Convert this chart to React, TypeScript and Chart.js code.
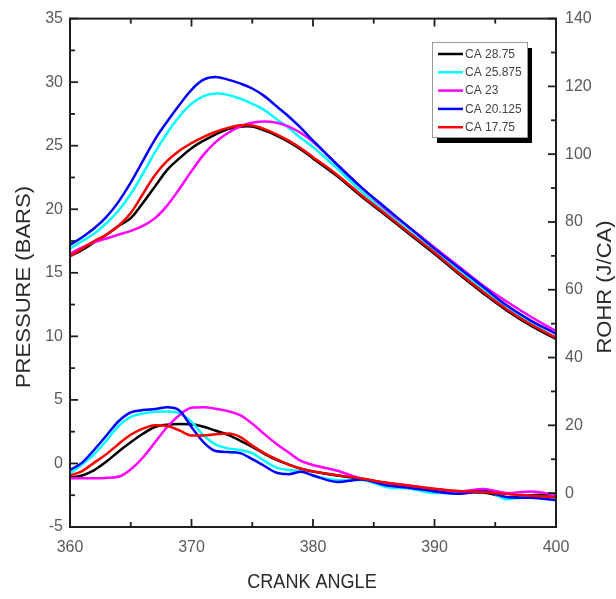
import React, { useEffect, useRef } from 'react';
import { Chart, registerables } from 'chart.js';

Chart.register(...registerables);

// ---------- DATA ----------
const crankAngle = [
  360, 361, 362, 363, 364, 365, 366, 367, 368, 369, 370, 371, 372, 373, 374, 375, 376, 377, 378, 379, 380,
  382, 384, 386, 388, 390, 392, 394, 396, 398, 400,
];

const seriesLabels = ['CA 28.75', 'CA 25.875', 'CA 23', 'CA 20.125', 'CA 17.75'];
const seriesColors = ['#000000', '#00ffff', '#ff00ff', '#0000ff', '#ff0000'];

// Pressure (bar), left axis
const pressureCA2875 = [
  16.3, 16.8, 17.4, 18.0, 18.7, 19.3, 20.5, 21.8, 23.1, 24.0, 24.8, 25.4, 25.9, 26.3, 26.5, 26.5, 26.2, 25.8, 25.3, 24.7, 24.0,
  22.6, 21.0, 19.5, 18.0, 16.5, 14.9, 13.4, 12.0, 10.8, 9.8,
];
const pressureCA25875 = [
  16.9, 17.5, 18.1, 18.9, 19.9, 21.2, 22.8, 24.5, 26.0, 27.3, 28.3, 28.9, 29.1, 29.0, 28.7, 28.3, 27.8, 27.1, 26.4, 25.6, 24.9,
  23.2, 21.4, 19.8, 18.2, 16.7, 15.2, 13.7, 12.2, 11.0, 9.9,
];
const pressureCA23 = [
  16.5, 17.0, 17.4, 17.7, 18.0, 18.3, 18.7, 19.3, 20.3, 21.6, 23.0, 24.3, 25.3, 26.0, 26.5, 26.8, 26.9, 26.8, 26.5, 26.0, 25.3,
  23.5, 21.7, 20.0, 18.5, 17.0, 15.5, 14.0, 12.7, 11.5, 10.4,
];
const pressureCA20125 = [
  17.2, 17.8, 18.5, 19.4, 20.6, 22.1, 23.8, 25.5, 26.9, 28.2, 29.4, 30.2, 30.4, 30.2, 29.9, 29.5, 28.9, 28.1, 27.3, 26.4, 25.4,
  23.5, 21.7, 20.1, 18.5, 16.9, 15.4, 13.9, 12.4, 11.2, 10.2,
];
const pressureCA1775 = [
  16.3, 16.9, 17.5, 18.0, 18.7, 19.7, 21.2, 22.7, 23.8, 24.6, 25.2, 25.7, 26.1, 26.4, 26.6, 26.6, 26.3, 25.9, 25.4, 24.8, 24.1,
  22.7, 21.1, 19.6, 18.1, 16.6, 15.0, 13.5, 12.1, 10.9, 9.9,
];

// ROHR (J/CA), right axis
const rohrCA2875 = [
  4.6, 5.2, 6.8, 9.3, 12.3, 15.0, 17.5, 19.5, 20.2, 20.4, 20.3, 19.6, 18.4, 17.2, 15.5, 13.6, 11.6, 9.8, 8.4, 7.2, 6.4,
  5.2, 4.2, 3.0, 2.0, 1.0, 0.3, 0.2, -1.2, -0.6, -0.3,
];
const rohrCA25875 = [
  5.8, 8.5, 11.5, 15.5, 19.8, 22.5, 23.5, 24.0, 24.1, 23.6, 21.0, 17.0, 14.3, 13.2, 12.7, 11.8, 9.5, 7.5, 6.8, 6.5, 5.2,
  3.8, 3.9, 1.8, 1.3, 0.0, 0.0, 1.2, -1.8, -1.0, -1.5,
];
const rohrCA23 = [
  4.4, 4.4, 4.4, 4.5, 4.8, 7.0, 10.5, 15.0, 19.5, 23.0, 25.2, 25.3, 24.9, 24.2, 23.0, 20.5, 17.4, 14.5, 12.0, 9.5, 8.3,
  6.6, 4.3, 3.0, 2.2, 1.2, 0.5, 1.2, 0.0, 0.5, -0.6,
];
const rohrCA20125 = [
  6.8, 9.0, 12.8, 17.0, 21.2, 23.8, 24.5, 24.8, 25.3, 24.4, 19.5, 15.0, 12.4, 12.1, 11.8, 10.0, 8.0, 6.0, 5.6, 6.3, 5.2,
  3.3, 4.0, 2.3, 1.5, 0.5, -0.2, 0.6, -1.2, -1.4, -2.1,
];
const rohrCA1775 = [
  5.2, 6.5, 9.0, 11.5, 14.5, 17.2, 19.0, 20.0, 19.8, 18.5, 17.0, 17.0, 17.4, 17.6, 16.6, 14.0, 11.8, 10.0, 8.4, 7.2, 6.4,
  5.3, 4.3, 3.1, 2.2, 1.3, 0.6, 0.3, -0.3, -0.8, -1.2,
];

const pressureSeries = [pressureCA2875, pressureCA25875, pressureCA23, pressureCA20125, pressureCA1775];
const rohrSeries = [rohrCA2875, rohrCA25875, rohrCA23, rohrCA20125, rohrCA1775];

const angleTicks = [360, 370, 380, 390, 400];
const pressureTicks = [-5, 0, 5, 10, 15, 20, 25, 30, 35];
const rohrTicks = [0, 20, 40, 60, 80, 100, 120, 140];

const xTitle = 'CRANK ANGLE';
const yLeftTitle = 'PRESSURE (BARS)';
const yRightTitle = 'ROHR (J/CA)';

const FONT = "'Liberation Sans', Arial, sans-serif";

const mids = (arr: number[]) => arr.slice(1).map((v, i) => (v + arr[i]) / 2);

const framePlugin = {
  id: 'frameAndExtras',
  afterDatasetsDraw(chart: any) {
    const { ctx, chartArea: a, scales } = chart;
    const xs = scales.x, yl = scales.y, yr = scales.y1;
    ctx.save();
    ctx.strokeStyle = '#1e1e1e';
    ctx.lineWidth = 2;
    ctx.strokeRect(a.left, a.top, a.right - a.left, a.bottom - a.top);

    const line = (x1: number, y1: number, x2: number, y2: number) => {
      ctx.beginPath();
      ctx.moveTo(x1, y1);
      ctx.lineTo(x2, y2);
      ctx.stroke();
    };
    const major = 8, minor = 5;
    ctx.lineWidth = 1.8;
    angleTicks.forEach((v) => {
      const p = xs.getPixelForValue(v);
      line(p, a.bottom, p, a.bottom - major);
      line(p, a.top, p, a.top + major);
    });
    mids(angleTicks).forEach((v) => {
      const p = xs.getPixelForValue(v);
      line(p, a.bottom, p, a.bottom - minor);
      line(p, a.top, p, a.top + minor);
    });
    pressureTicks.forEach((v) => {
      const p = yl.getPixelForValue(v);
      line(a.left, p, a.left + major, p);
    });
    mids(pressureTicks).forEach((v) => {
      const p = yl.getPixelForValue(v);
      line(a.left, p, a.left + minor, p);
    });
    rohrTicks.forEach((v) => {
      const p = yr.getPixelForValue(v);
      line(a.right, p, a.right - major, p);
    });
    mids(rohrTicks).forEach((v) => {
      const p = yr.getPixelForValue(v);
      line(a.right, p, a.right - minor, p);
    });

    // Legend
    const lx = 432, ly = 42, lw = 95, lh = 95;
    ctx.fillStyle = '#000';
    ctx.fillRect(lx + 5, ly + 6, lw, lh);
    ctx.fillStyle = '#fff';
    ctx.fillRect(lx, ly, lw, lh);
    ctx.strokeStyle = '#9a9a9a';
    ctx.lineWidth = 1;
    ctx.strokeRect(lx + 0.5, ly + 0.5, lw, lh);
    ctx.font = `12px ${FONT}`;
    ctx.textBaseline = 'middle';
    ctx.textAlign = 'left';
    seriesLabels.forEach((lab, i) => {
      const y = 54 + i * 18.3;
      ctx.strokeStyle = seriesColors[i];
      ctx.lineWidth = 2.5;
      line(438, y, 463, y);
      ctx.fillStyle = '#444';
      ctx.fillText(lab, 465, y + 0.5);
    });

    // Axis titles
    ctx.fillStyle = '#2a2a2a';
    ctx.textAlign = 'center';
    ctx.textBaseline = 'middle';
    ctx.save();
    ctx.translate(312, 583);
    ctx.scale(0.95, 1.05);
    ctx.font = `19px ${FONT}`;
    ctx.fillText(xTitle, 0, 0);
    ctx.restore();

    ctx.save();
    ctx.translate(24, 287);
    ctx.rotate(-Math.PI / 2);
    ctx.scale(1.05, 1);
    ctx.font = `21px ${FONT}`;
    ctx.fillText(yLeftTitle, 0, 0);
    ctx.restore();

    ctx.save();
    ctx.translate(605, 287);
    ctx.rotate(-Math.PI / 2);
    ctx.scale(1.1, 1);
    ctx.font = `20px ${FONT}`;
    ctx.fillText(yRightTitle, 0, 0);
    ctx.restore();

    ctx.restore();
  },
};

export default function App() {
  const ref = useRef<HTMLCanvasElement | null>(null);

  useEffect(() => {
    if (!ref.current) return;
    const makeDs = (series: number[][], axis: string, smooth: boolean) =>
      series.map((vals, i) => ({
        label: seriesLabels[i],
        data: vals.map((v, j) => ({ x: crankAngle[j], y: v })),
        yAxisID: axis,
        borderColor: seriesColors[i],
        backgroundColor: seriesColors[i],
        borderWidth: 2.5,
        pointRadius: 0,
        ...(smooth ? { tension: 0.4 } : { cubicInterpolationMode: 'monotone' as const }),
        fill: false,
        order: 4 - i,
      }));

    const tickFont = { family: FONT, size: 16 };
    const chart = new Chart(ref.current, {
      type: 'line',
      data: { datasets: [...makeDs(pressureSeries, 'y', true), ...makeDs(rohrSeries, 'y1', false)] as any },
      options: {
        animation: false,
        responsive: false,
        events: [],
        layout: { padding: { top: 17, left: 0, right: 0, bottom: 0 } },
        plugins: { legend: { display: false }, tooltip: { enabled: false }, title: { display: false } },
        scales: {
          x: {
            type: 'linear',
            min: 360,
            max: 400,
            afterBuildTicks: (s: any) => {
              s.ticks = angleTicks.map((v) => ({ value: v }));
            },
            afterFit: (s: any) => {
              s.height = 72;
            },
            grid: { display: false, drawTicks: false },
            border: { display: false },
            ticks: { font: tickFont, color: '#5a5a5a', padding: 11, maxRotation: 0, autoSkip: false },
          },
          y: {
            type: 'linear',
            position: 'left',
            min: -5,
            max: 35,
            afterBuildTicks: (s: any) => {
              s.ticks = pressureTicks.map((v) => ({ value: v }));
            },
            afterFit: (s: any) => {
              s.width = 70;
            },
            grid: { display: false, drawTicks: false },
            border: { display: false },
            ticks: { font: tickFont, color: '#5a5a5a', padding: 7, autoSkip: false },
          },
          y1: {
            type: 'linear',
            position: 'right',
            min: -10,
            max: 140,
            afterBuildTicks: (s: any) => {
              s.ticks = rohrTicks.map((v) => ({ value: v }));
            },
            afterFit: (s: any) => {
              s.width = 60;
            },
            grid: { display: false, drawTicks: false },
            border: { display: false },
            ticks: { font: tickFont, color: '#5a5a5a', padding: 9, autoSkip: false },
          },
        },
      } as any,
      plugins: [framePlugin],
    });
    return () => chart.destroy();
  }, []);

  return (
    <div style={{ position: 'absolute', left: 0, top: 0, width: 616, height: 599, background: '#fff' }}>
      <canvas ref={ref} width={616} height={599} style={{ display: 'block' }} />
    </div>
  );
}
